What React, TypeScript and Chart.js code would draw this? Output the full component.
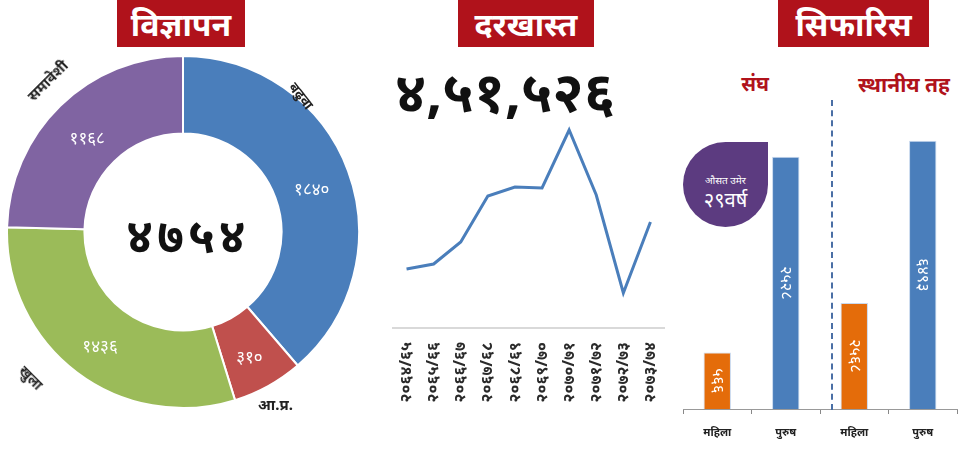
import React, { useEffect, useRef } from "react";
import { Chart, registerables } from "chart.js";
Chart.register(...registerables);

// ---------- data ----------
const adCategories = ["बढुवा", "आ.प्र.", "खुला", "समावेशी"];
const adValues = [1840, 310, 1436, 1168];
const adColors = ["#4a7ebb", "#c0504d", "#9bbb59", "#8064a2"];

const appTotal = 451526;
const appYears = ["२०६४/६५", "२०६५/६६", "२०६६/६७", "२०६७/६८", "२०६८/६९", "२०६९/७०", "२०७०/७१", "२०७१/७२", "२०७२/७३", "२०७३/७४"];
const appValues = [59, 64, 86, 132, 141, 140, 198, 133, 35, 106];

const recCategories = ["महिला", "पुरुष", "महिला", "पुरुष"];
const recFederal = [566, 2528, null, null];
const recLocal = [null, null, 2568, 6493];
const recColors = ["#e46c0a", "#4a7ebb", "#e46c0a", "#4a7ebb"];
const avgAge = 29;

const FONT = "'Noto Sans', 'Noto Sans Devanagari', 'Lohit Devanagari', sans-serif";
const NEP = "०१२३४५६७८९";
const toNep = (n: number | string, grouped = false) =>
  (grouped ? Number(n).toLocaleString("en-IN") : String(n)).replace(/[0-9]/g, (d) => NEP[+d]);

// ---------- plugins ----------
const arcValuePlugin = {
  id: "arcValues",
  afterDatasetsDraw(chart: any) {
    const ctx = chart.ctx;
    const meta = chart.getDatasetMeta(0);
    ctx.save();
    ctx.fillStyle = "#fff";
    ctx.font = `17px ${FONT}`;
    ctx.textAlign = "center";
    ctx.textBaseline = "middle";
    meta.data.forEach((arc: any, i: number) => {
      const p = arc.tooltipPosition();
      ctx.fillText(toNep(chart.data.datasets[0].data[i]), p.x, p.y + 6);
    });
    ctx.restore();
  },
};

const barValuePlugin = {
  id: "barValues",
  afterDatasetsDraw(chart: any) {
    const ctx = chart.ctx;
    ctx.save();
    ctx.fillStyle = "#fff";
    ctx.font = `16px ${FONT}`;
    ctx.textAlign = "center";
    ctx.textBaseline = "middle";
    chart.data.datasets.forEach((ds: any, di: number) => {
      const meta = chart.getDatasetMeta(di);
      meta.data.forEach((bar: any, i: number) => {
        const v = ds.data[i];
        if (v == null) return;
        const cy = (bar.y + bar.base) / 2;
        ctx.save();
        ctx.translate(bar.x, cy);
        ctx.rotate(Math.PI / 2);
        ctx.fillText(toNep(v), 0, 0);
        ctx.restore();
      });
    });
    ctx.restore();
  },
};

function useChart(make: (c: HTMLCanvasElement) => Chart) {
  const ref = useRef<HTMLCanvasElement>(null);
  useEffect(() => {
    const ch = make(ref.current!);
    return () => ch.destroy();
  }, []);
  return ref;
}

function Doughnut() {
  const ref = useChart(
    (c) =>
      new Chart(c, {
        type: "doughnut",
        data: {
          labels: adCategories,
          datasets: [{ data: adValues, backgroundColor: adColors, borderColor: "#ffffff", borderWidth: 2 }],
        },
        options: {
          animation: false,
          responsive: false,
          cutout: "56%",
          plugins: { legend: { display: false }, tooltip: { enabled: false } },
        },
        plugins: [arcValuePlugin],
      })
  );
  return <canvas ref={ref} width={354} height={354} style={{ position: "absolute", left: 6, top: 55 }} />;
}

function LineC() {
  const ref = useChart(
    (c) =>
      new Chart(c, {
        type: "line",
        data: {
          labels: appYears,
          datasets: [{ data: appValues, borderColor: "#4a7ebb", borderWidth: 3, pointRadius: 0, tension: 0, clip: false } as any],
        },
        options: {
          animation: false,
          responsive: false,
          layout: { padding: { left: 13, right: 6, top: 10, bottom: 0 } },
          plugins: { legend: { display: false }, tooltip: { enabled: false } },
          scales: {
            x: {
              offset: true,
              grid: { display: false },
              border: { color: "#d9d9d9", width: 2 },
              ticks: { minRotation: 90, maxRotation: 90, color: "#2a2a2a", font: { family: FONT, size: 16, weight: "bold" }, padding: 6 },
              afterFit: (s: any) => { s.height = 92; s.paddingLeft = 0; s.paddingRight = 0; },
            },
            y: { display: false, min: 0, max: 198 },
          },
        } as any,
      })
  );
  return <canvas ref={ref} width={290} height={300} style={{ position: "absolute", left: 380, top: 120 }} />;
}

function BarC() {
  const ref = useChart(
    (c) =>
      new Chart(c, {
        type: "bar",
        data: {
          labels: recCategories,
          datasets: [
            { data: recFederal, backgroundColor: recColors, borderColor: "#c9d9ee", borderWidth: 1, yAxisID: "y1", barPercentage: 0.4, categoryPercentage: 1, grouped: false } as any,
            { data: recLocal, backgroundColor: recColors, borderColor: "#c9d9ee", borderWidth: 1, yAxisID: "y2", barPercentage: 0.4, categoryPercentage: 1, grouped: false } as any,
          ],
        },
        options: {
          animation: false,
          responsive: false,
          layout: { padding: { left: 13, right: 4, top: 20, bottom: 0 } },
          plugins: { legend: { display: false }, tooltip: { enabled: false } },
          scales: {
            x: {
              grid: { display: true, drawOnChartArea: false, offset: true, tickLength: 5, color: "#888" },
              border: { color: "#999", width: 1 },
              ticks: { color: "#222", font: { family: FONT, size: 11, weight: "bold" }, padding: 12 },
              afterFit: (s: any) => { s.height = 43; },
            },
            y1: { display: false, min: 0, max: 2695 },
            y2: { display: false, min: 0, max: 6510 },
          },
        } as any,
        plugins: [barValuePlugin],
      })
  );
  return <canvas ref={ref} width={291} height={332} style={{ position: "absolute", left: 670, top: 120 }} />;
}

const titleBox = (left: number, width: number, text: string) => (
  <div
    style={{
      position: "absolute", left, top: 0, width, height: 47, background: "#b0121b", color: "#fff",
      fontFamily: FONT, fontWeight: 700, fontSize: 32, lineHeight: "47px", textAlign: "center",
    }}
  >
    {text}
  </div>
);

const abs = (style: React.CSSProperties, text: string) => (
  <div style={{ position: "absolute", fontFamily: FONT, whiteSpace: "nowrap", ...style }}>{text}</div>
);

export default function App() {
  const total = adValues.reduce((a, b) => a + b, 0);
  return (
    <div style={{ position: "absolute", left: 0, top: 0, width: 961, height: 452, background: "#fff", overflow: "hidden" }}>
      {titleBox(117, 128, "विज्ञापन")}
      {titleBox(458, 136, "दरखास्त")}
      {titleBox(778, 151, "सिफारिस")}

      <Doughnut />
      {abs({ left: 110, top: 205, width: 156, textAlign: "center", fontSize: 48, fontWeight: 700, letterSpacing: 4, color: "#111", lineHeight: "60px" }, toNep(total))}
      {abs({ left: 287, top: 86, fontSize: 14, fontWeight: 700, transform: "rotate(52deg)", color: "#222" }, adCategories[0])}
      {abs({ left: 258, top: 394, fontSize: 15, fontWeight: 700, color: "#222" }, adCategories[1])}
      {abs({ left: 18, top: 368, fontSize: 14, fontWeight: 700, transform: "rotate(45deg)", color: "#222" }, adCategories[2])}
      {abs({ left: 22, top: 70, fontSize: 15, fontWeight: 700, transform: "rotate(-45deg)", color: "#222" }, adCategories[3])}

      {abs({ left: 390, top: 52, width: 230, textAlign: "center", fontSize: 56, fontWeight: 700, color: "#111", lineHeight: "76px" }, toNep(appTotal, true))}
      <LineC />

      <BarC />
      <div style={{ position: "absolute", left: 831, top: 100, height: 310, borderLeft: "2px dashed #4a6fa5" }} />
      {abs({ left: 725, top: 70, width: 60, textAlign: "center", fontSize: 20, fontWeight: 700, color: "#b0121b" }, "संघ")}
      {abs({ left: 848, top: 70, width: 112, textAlign: "center", fontSize: 21, fontWeight: 700, color: "#b0121b" }, "स्थानीय तह")}
      <div
        style={{
          position: "absolute", left: 683, top: 142, width: 85, height: 85, background: "#5c3b80",
          borderRadius: "50% 0 50% 50%", color: "#fff", fontFamily: FONT, textAlign: "center",
        }}
      >
        <div style={{ fontSize: 10, marginTop: 31, lineHeight: "14px" }}>औसत उमेर</div>
        <div style={{ fontSize: 20, lineHeight: "26px" }}>{toNep(avgAge) + "वर्ष"}</div>
      </div>
    </div>
  );
}
